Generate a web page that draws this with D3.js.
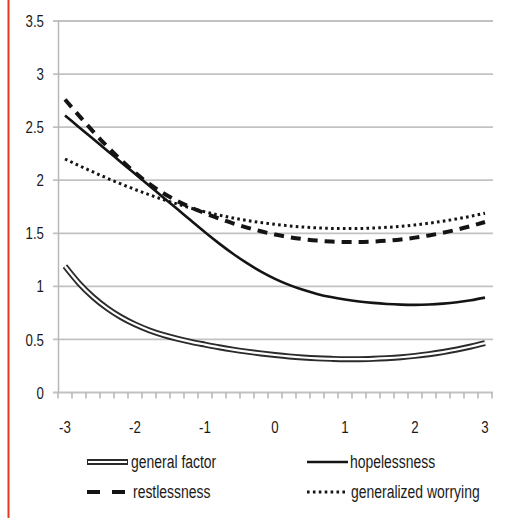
<!DOCTYPE html>
<html>
<head>
<meta charset="utf-8">
<script src="https://cdn.jsdelivr.net/npm/d3@7"></script>
<style>
  body { margin: 0; background: #fff; }
  svg { display: block; }
  text { font-family: "Liberation Sans", Arial, sans-serif; fill: #1a1a1a; }
</style>
</head>
<body>
<div id="chart"></div>
<script>
// category axis: -3 .. 3 in steps of 0.2
const categories = [-3, -2.8, -2.6, -2.4, -2.2, -2, -1.8, -1.6, -1.4, -1.2, -1,
  -0.8, -0.6, -0.4, -0.2, 0, 0.2, 0.4, 0.6, 0.8, 1,
  1.2, 1.4, 1.6, 1.8, 2, 2.2, 2.4, 2.6, 2.8, 3];

const generalFactor = [1.19, 1.03, 0.90, 0.795, 0.71, 0.642, 0.587, 0.543, 0.507, 0.477, 0.451,
  0.426, 0.404, 0.385, 0.368, 0.353, 0.340, 0.330, 0.322, 0.317, 0.314,
  0.314, 0.317, 0.323, 0.332, 0.345, 0.361, 0.381, 0.405, 0.433, 0.465];

const hopelessness = [2.61, 2.50, 2.39, 2.28, 2.17, 2.06, 1.95, 1.84, 1.73, 1.62, 1.51,
  1.405, 1.307, 1.218, 1.139, 1.071, 1.014, 0.967, 0.929, 0.899, 0.876,
  0.858, 0.844, 0.834, 0.828, 0.826, 0.829, 0.837, 0.850, 0.869, 0.894];

const restlessness = [2.76, 2.608, 2.46, 2.32, 2.19, 2.072, 1.967, 1.879, 1.805, 1.743, 1.689,
  1.639, 1.594, 1.554, 1.519, 1.488, 1.464, 1.445, 1.431, 1.422, 1.418,
  1.418, 1.422, 1.430, 1.442, 1.459, 1.480, 1.505, 1.534, 1.568, 1.606];

const worrying = [2.20, 2.138, 2.078, 2.02, 1.965, 1.913, 1.864, 1.818, 1.776, 1.737, 1.702,
  1.671, 1.644, 1.621, 1.601, 1.584, 1.570, 1.559, 1.551, 1.546, 1.544,
  1.545, 1.549, 1.556, 1.566, 1.579, 1.595, 1.614, 1.636, 1.661, 1.689];

const yTicks = [0, 0.5, 1, 1.5, 2, 2.5, 3, 3.5];
const yTickLabels = ["0", "0.5", "1", "1.5", "2", "2.5", "3", "3.5"];
const xTickLabels = ["-3", "-2", "-1", "0", "1", "2", "3"];
const seriesNames = ["general factor", "hopelessness", "restlessness", "generalized worrying"];

const width = 526, height = 518;

const svg = d3.select("#chart").append("svg")
    .attr("width", width)
    .attr("height", height);

// red border line on the left
svg.append("line")
    .attr("x1", 8.5).attr("x2", 8.5)
    .attr("y1", 0).attr("y2", height)
    .attr("stroke", "#e8381f")
    .attr("stroke-width", 2);

const x = d3.scalePoint().domain(categories).range([58, 492]).padding(0.5);
const y = d3.scaleLinear().domain([0, 3.5]).range([392.5, 21]);

const left = 58.5, right = 493;

// gridlines + little ticks on the left
svg.append("g")
  .selectAll("line")
  .data(yTicks)
  .join("line")
    .attr("x1", 53).attr("x2", right)
    .attr("y1", d => y(d)).attr("y2", d => y(d))
    .attr("stroke", "#c2c2c2")
    .attr("stroke-width", 1.8);

// tick text squeezed horizontally, like a narrow face
svg.append("g")
  .selectAll("text")
  .data(yTicks)
  .join("text")
    .attr("transform", d => `translate(44,${y(d)}) scale(0.78,1)`)
    .attr("dy", "0.36em")
    .attr("text-anchor", "end")
    .style("font-size", "17px")
    .text((d, i) => yTickLabels[i]);

// y axis line
svg.append("line")
    .attr("x1", left).attr("x2", left)
    .attr("y1", y(3.5)).attr("y2", y(0))
    .attr("stroke", "#b8b8b8")
    .attr("stroke-width", 1.5);

// x axis: tick marks between categories
const step = x.step();
const bounds = d3.range(categories.length + 1).map(i => x(categories[0]) - step / 2 + i * step);
svg.append("g")
  .selectAll("line")
  .data(bounds)
  .join("line")
    .attr("x1", d => d).attr("x2", d => d)
    .attr("y1", y(0)).attr("y2", y(0) + 6)
    .attr("stroke", "#b0b0b0")
    .attr("stroke-width", 1.4);

svg.append("g")
  .selectAll("text")
  .data(xTickLabels)
  .join("text")
    .attr("transform", d => `translate(${x(+d)},433) scale(0.78,1)`)
    .attr("text-anchor", "middle")
    .style("font-size", "17px")
    .text(d => d);

const line = d3.line()
    .x((d, i) => x(categories[i]))
    .y(d => y(d))
    .curve(d3.curveMonotoneX);

const plot = svg.append("g").attr("fill", "none");

// general factor: double line
plot.append("path").attr("d", line(generalFactor))
    .attr("stroke", "#2b2b2b").attr("stroke-width", 6);
plot.append("path").attr("d", line(generalFactor))
    .attr("stroke", "#fff").attr("stroke-width", 2.2);

plot.append("path").attr("d", line(hopelessness))
    .attr("stroke", "#141414").attr("stroke-width", 2.6);

plot.append("path").attr("d", line(worrying))
    .attr("stroke", "#141414").attr("stroke-width", 3)
    .attr("stroke-dasharray", "2.6,3.3");

plot.append("path").attr("d", line(restlessness))
    .attr("stroke", "#141414").attr("stroke-width", 4)
    .attr("stroke-dasharray", "10,7");

// legend
const legend = svg.append("g").attr("fill", "none");
const items = [
  {x: 87, y: 462, tx: 131, name: seriesNames[0]},
  {x: 307, y: 462, tx: 350, name: seriesNames[1]},
  {x: 87, y: 492, tx: 133, name: seriesNames[2]},
  {x: 307, y: 492, tx: 351, name: seriesNames[3]}
];

legend.append("line").attr("x1", items[0].x).attr("x2", items[0].x + 41)
    .attr("y1", items[0].y).attr("y2", items[0].y)
    .attr("stroke", "#2b2b2b").attr("stroke-width", 6);
legend.append("line").attr("x1", items[0].x + 1).attr("x2", items[0].x + 40)
    .attr("y1", items[0].y).attr("y2", items[0].y)
    .attr("stroke", "#fff").attr("stroke-width", 2.2);

legend.append("line").attr("x1", items[1].x).attr("x2", items[1].x + 41)
    .attr("y1", items[1].y).attr("y2", items[1].y)
    .attr("stroke", "#141414").attr("stroke-width", 2.6);

legend.append("line").attr("x1", items[2].x).attr("x2", items[2].x + 38)
    .attr("y1", items[2].y).attr("y2", items[2].y)
    .attr("stroke", "#141414").attr("stroke-width", 4)
    .attr("stroke-dasharray", "13,12");

legend.append("line").attr("x1", items[3].x).attr("x2", items[3].x + 39)
    .attr("y1", items[3].y).attr("y2", items[3].y)
    .attr("stroke", "#141414").attr("stroke-width", 3)
    .attr("stroke-dasharray", "2.6,3.3");

svg.append("g")
  .selectAll("text")
  .data(items)
  .join("text")
    .attr("transform", d => `translate(${d.tx},${d.y + 6}) scale(0.775,1)`)
    .style("font-size", "18px")
    .text(d => d.name);
</script>
</body>
</html>
